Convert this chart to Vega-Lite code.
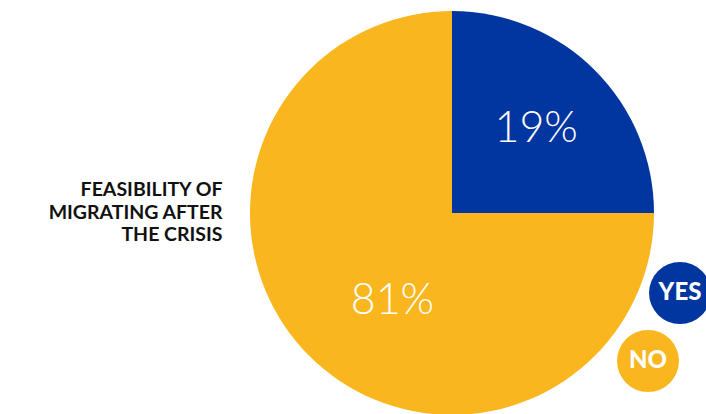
{
  "$schema": "https://vega.github.io/schema/vega-lite/v6.json",
  "width": 404,
  "height": 404,
  "autosize": "none",
  "padding": {"left": 250, "top": 11, "right": 52, "bottom": 0},
  "background": "white",
  "config": {"view": {"stroke": null}},
  "title": {
    "text": ["FEASIBILITY OF", "MIGRATING AFTER", "THE CRISIS"],
    "orient": "left",
    "angle": 0,
    "align": "right",
    "baseline": "middle",
    "anchor": "middle",
    "offset": 27,
    "dx": 174,
    "dy": -23,
    "font": "Lato",
    "fontWeight": "bold",
    "fontSize": 19.5,
    "lineHeight": 22.5,
    "color": "#111111"
  },
  "data": {
    "values": [
      {"answer": "YES", "pct": 19, "slice": 25, "label": "19%"},
      {"answer": "NO", "pct": 81, "slice": 75, "label": "81%"}
    ]
  },
  "layer": [
    {
      "mark": {"type": "arc", "strokeWidth": 0},
      "encoding": {
        "theta": {"field": "slice", "type": "quantitative", "stack": true},
        "order": {"field": "slice", "type": "quantitative", "sort": "ascending"},
        "fill": {
          "field": "answer",
          "type": "nominal",
          "scale": {"domain": ["YES", "NO"], "range": ["#0135A0", "#F9B61E"]},
          "legend": {
            "values": ["YES"],
            "title": null,
            "orient": "none",
            "legendX": 399,
            "legendY": 251,
            "symbolType": "circle",
            "symbolSize": 3844,
            "symbolStrokeWidth": 0,
            "labelOffset": -31,
            "labelAlign": "center",
            "labelColor": "white",
            "labelFont": "Lato",
            "labelFontWeight": 900,
            "labelFontSize": 24
          }
        },
        "stroke": {
          "field": "answer",
          "type": "nominal",
          "scale": {"domain": ["NO", "YES"], "range": ["#F9B61E", "#0135A0"]},
          "legend": {
            "values": ["NO"],
            "title": null,
            "orient": "none",
            "legendX": 367,
            "legendY": 319,
            "symbolType": "circle",
            "symbolSize": 3844,
            "symbolStrokeWidth": 0,
            "symbolFillColor": "#F9B61E",
            "labelOffset": -31,
            "labelAlign": "center",
            "labelColor": "white",
            "labelFont": "Lato",
            "labelFontWeight": 900,
            "labelFontSize": 24,
            "encode": {
              "symbols": {
                "enter": {"fill": {"value": "#F9B61E"}},
                "update": {"fill": {"value": "#F9B61E"}, "strokeWidth": {"value": 0}}
              }
            }
          }
        }
      }
    },
    {
      "mark": {"type": "text", "radius": 119, "font": "Lato", "fontWeight": 300, "fontSize": 43, "color": "white", "baseline": "middle", "align": "center"},
      "encoding": {
        "theta": {"field": "slice", "type": "quantitative", "stack": true},
        "order": {"field": "slice", "type": "quantitative", "sort": "ascending"},
        "detail": {"field": "answer", "type": "nominal"},
        "text": {"condition": {"test": "datum.answer === 'YES'", "field": "label"}, "value": ""}
      }
    },
    {
      "mark": {"type": "text", "radius": 106, "font": "Lato", "fontWeight": 300, "fontSize": 43, "color": "white", "baseline": "middle", "align": "center"},
      "encoding": {
        "theta": {"field": "pct", "type": "quantitative", "stack": true},
        "order": {"field": "pct", "type": "quantitative", "sort": "ascending"},
        "detail": {"field": "answer", "type": "nominal"},
        "text": {"condition": {"test": "datum.answer === 'NO'", "field": "label"}, "value": ""}
      }
    }
  ]
}
